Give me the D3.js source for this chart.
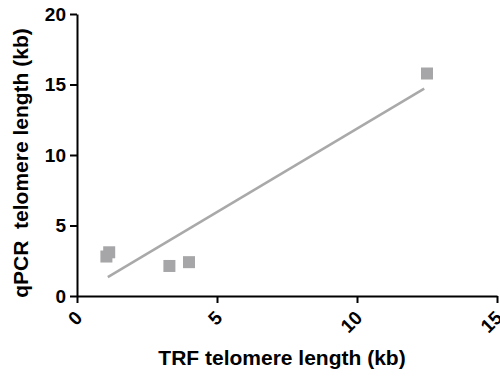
<!DOCTYPE html>
<html lang="en">
<head>
<meta charset="UTF-8">
<title>TRF vs qPCR</title>
<script src="https://d3js.org/d3.v7.min.js"></script>
<style>
    body { margin: 0; background: #fff; }
    svg { font-family: "Liberation Sans", Arial, sans-serif; font-weight: bold; }
    .axis path, .axis line { stroke: #000; stroke-width: 2px; }
    .title { font-family: "Liberation Sans", Arial, sans-serif; font-size: 21px; font-weight: bold; fill: #000; }
</style>
</head>
<body>
<div id="chart"></div>
<script>
    // points
    var trf = [1.05, 1.15, 3.3, 4.0, 12.5];
    var qpcr = [2.8, 3.1, 2.13, 2.4, 15.78];
    var xTicks = [0, 5, 10, 15];
    var yTicks = [0, 5, 10, 15, 20];

    var margin = {top: 14, right: 3, bottom: 80, left: 77},
        width = 500 - margin.left - margin.right,
        height = 376 - margin.top - margin.bottom;

    var svg = d3.select("#chart").append("svg")
        .attr("width", 500)
        .attr("height", 376)
        .append("g")
        .attr("transform", "translate(" + margin.left + "," + margin.top + ")");

    var x = d3.scaleLinear().domain([0, 15]).range([0, width]);
    var y = d3.scaleLinear().domain([0, 20]).range([height, 0]);

    // least squares fit
    var mx = d3.mean(trf), my = d3.mean(qpcr);
    var sxy = d3.sum(trf, function(v, i){ return (v - mx) * (qpcr[i] - my); });
    var sxx = d3.sum(trf, function(v){ return (v - mx) * (v - mx); });
    var slope = sxy / sxx, icpt = my - slope * mx;
    var fitX = [1.1, 12.4];

    svg.append("path")
        .datum(fitX)
        .attr("fill", "none")
        .attr("stroke", "#a9a9a9")
        .attr("stroke-width", 2.5)
        .attr("d", d3.line()
            .x(function(d){ return x(d); })
            .y(function(d){ return y(icpt + slope * d); }));

    var sz = 12;
    svg.append("g").selectAll("rect").data(trf).enter().append("rect")
        .attr("x", function(d){ return x(d) - sz / 2; })
        .attr("y", function(d, i){ return y(qpcr[i]) - sz / 2; })
        .attr("width", sz)
        .attr("height", sz)
        .attr("fill", "#a6a6a8");

    function styleTicks(sel) {
        sel.attr("font-family", "'Liberation Sans', Arial, sans-serif")
            .attr("font-size", 19)
            .attr("font-weight", "bold");
        sel.selectAll("text").style("font-weight", "bold").attr("fill", "#000");
    }

    var xAxis = svg.append("g").attr("class", "axis")
        .attr("transform", "translate(0," + height + ")")
        .call(d3.axisBottom(x).tickValues(xTicks).tickSize(7).tickSizeOuter(0))
        .call(styleTicks);
    xAxis.selectAll(".tick text")
        .attr("text-anchor", "end")
        .attr("x", 0).attr("y", 0).attr("dy", 0)
        .attr("transform", "translate(6,23) rotate(-45)");

    svg.append("g").attr("class", "axis")
        .call(d3.axisLeft(y).tickValues(yTicks).tickSize(7).tickSizeOuter(0))
        .call(styleTicks)
        .selectAll("text").attr("x", -11);

    svg.append("text")
        .attr("class", "title")
        .attr("x", 205)
        .attr("y", height + 69)
        .attr("text-anchor", "middle")
        .text("TRF telomere length (kb)");

    svg.append("text")
        .attr("class", "title")
        .attr("transform", "rotate(-90)")
        .attr("x", -149)
        .attr("y", -49)
        .attr("text-anchor", "middle")
        .attr("xml:space", "preserve")
        .style("white-space", "pre")
        .text("qPCR  telomere length (kb)");
</script>
</body>
</html>
